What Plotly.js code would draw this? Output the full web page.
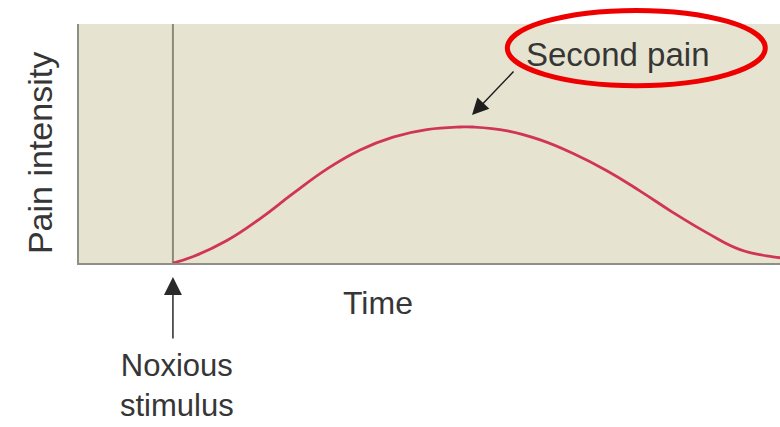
<!DOCTYPE html>
<html>
<head>
<meta charset="utf-8">
<script src="https://cdn.plot.ly/plotly-3.0.1.min.js"></script>
<style>html,body{margin:0;padding:0;background:#fff;}#chart{width:780px;height:427px;}</style>
</head>
<body>
<div id="chart"></div>
<script>
// Time (arbitrary units, 0-100) and pain intensity (0-100)
const timeValues = [13.4, 16.3, 21.1, 25.8, 30.5, 35.4, 40.1, 44.8, 49.6, 54.4, 56.2, 61.1, 65.8, 70.5, 75.3, 80.0, 84.7, 89.6, 94.3, 99.0, 100];
const painValues = [0, 2.7, 9.4, 18.5, 29.0, 39.4, 47.3, 52.7, 55.8, 56.9, 56.9, 55.3, 51.5, 45.8, 38.6, 30.2, 21.2, 12.6, 5.6, 2.6, 2.2];
const stimulusTime = 13.4;
const yAxisLabel = "Pain intensity";
const xAxisLabel = "Time";
const stimulusLabel = "Noxious<br>stimulus";
const curveLabel = "Second pain";
const peakPoint = {x: 56.06, y: 61.9};

const font = {family: "Liberation Sans, Arial, sans-serif", size: 32, color: "#363636"};

const trace = {
  x: timeValues, y: painValues, type: "scatter", mode: "lines",
  line: {color: "#d03558", width: 2.8, shape: "spline", smoothing: 1.3},
  hoverinfo: "skip", showlegend: false
};

const layout = {
  width: 780, height: 427,
  margin: {l: 79, r: 0, t: 24, b: 164, pad: 0},
  paper_bgcolor: "#ffffff",
  plot_bgcolor: "#e6e4d0",
  xaxis: {range: [0, 100], showgrid: false, zeroline: false, showticklabels: false, ticks: "",
          showline: true, linecolor: "#8f8f85", linewidth: 2, fixedrange: true},
  yaxis: {range: [0, 100], showgrid: false, zeroline: false, showticklabels: false, ticks: "",
          showline: true, linecolor: "#8f8f85", linewidth: 2, fixedrange: true},
  shapes: [
    {type: "line", xref: "x", yref: "paper", x0: stimulusTime, x1: stimulusTime, y0: 0, y1: 1,
     line: {color: "#8c8a78", width: 2}, layer: "below"},
    {type: "circle", xref: "paper", yref: "paper", x0: 0.611, x1: 0.979, y0: 0.742, y1: 1.057,
     line: {color: "#ee0000", width: 5}}
  ],
  annotations: [
    {text: yAxisLabel, xref: "paper", yref: "paper", x: -0.0556, y: 0.46, textangle: -90,
     showarrow: false, font: Object.assign({}, font, {size: 34}), xanchor: "center", yanchor: "middle"},
    {text: xAxisLabel, xref: "paper", yref: "paper", x: 0.4265, y: -0.167,
     showarrow: false, font: font, xanchor: "center", yanchor: "middle"},
    {text: stimulusLabel, xref: "paper", yref: "paper", x: 0.14, y: -0.513, borderpad: 0,
     showarrow: false, font: Object.assign({}, font, {size: 31}), xanchor: "center", yanchor: "middle"},
    {text: curveLabel, xref: "paper", yref: "paper", x: 0.7675, y: 0.874,
     showarrow: false, font: Object.assign({}, font, {size: 33}), xanchor: "center", yanchor: "middle"},
    {text: "", xref: "x", yref: "y", x: peakPoint.x, y: peakPoint.y, ax: 43, ay: -45,
     showarrow: true, arrowhead: 2, arrowsize: 2.2, arrowwidth: 1.5, arrowcolor: "#1e1e1e"},
    {text: "", xref: "x", yref: "paper", x: stimulusTime, y: -0.0586, ax: 0, ay: 63,
     showarrow: true, arrowhead: 2, arrowsize: 2.4, arrowwidth: 1.5, arrowcolor: "#2a2a2a"}
  ]
};

Plotly.newPlot("chart", [trace], layout, {displayModeBar: false, staticPlot: true});
</script>
</body>
</html>
